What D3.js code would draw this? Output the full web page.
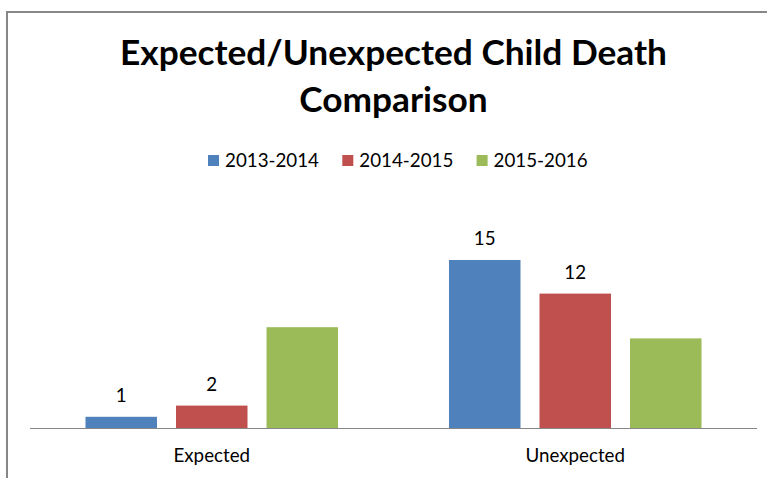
<!DOCTYPE html>
<html>
<head>
<meta charset="utf-8">
<script src="https://cdn.jsdelivr.net/npm/d3@7/dist/d3.min.js"></script>
<style>
  html, body { margin: 0; padding: 0; background: #fff; }
  svg { display: block; }
</style>
</head>
<body>
<svg id="chart" width="767" height="478"></svg>
<script>
// Categories, series and values
const categories = ["Expected", "Unexpected"];
const seriesNames = ["2013-2014", "2014-2015", "2015-2016"];
const seriesColors = ["#4F81BD", "#C0504D", "#9BBB59"];
const values2013 = [1, 15];
const values2014 = [2, 12];
const values2015 = [9, 8];
// data labels are shown only for the first two series
const showLabels = [true, true, false];
const titleLines = ["Expected/Unexpected Child Death", "Comparison"];
const yMax = 16;

const seriesValues = [values2013, values2014, values2015];

const svg = d3.select("#chart");
const FONT = "Lato, 'Open Sans', 'DejaVu Sans', sans-serif";

// Pick a font size so that a string renders at a given width
function fitSize(text, weight, targetWidth) {
  const probe = svg.append("text")
    .attr("font-family", FONT)
    .attr("font-weight", weight)
    .attr("font-size", 100)
    .text(text);
  const w = probe.node().getComputedTextLength();
  probe.remove();
  return 100 * targetWidth / w;
}

// Chart area frame (gray border along the top and left)
svg.append("line")
  .attr("x1", 7).attr("x2", 767).attr("y1", 12).attr("y2", 12)
  .attr("stroke", "#878787").attr("stroke-width", 2);
svg.append("line")
  .attr("x1", 7).attr("x2", 7).attr("y1", 11).attr("y2", 478)
  .attr("stroke", "#878787").attr("stroke-width", 2);

// Plot geometry
const plot = { left: 30, right: 757, baseline: 428, unit: 11.2 };

const x0 = d3.scaleBand()
  .domain(categories)
  .range([plot.left, plot.right])
  .paddingInner(0)
  .paddingOuter(0);

const x1 = d3.scaleBand()
  .domain(seriesNames)
  .range([0, x0.bandwidth()])
  .paddingInner(0.21)
  .paddingOuter(0.613);

const y = d3.scaleLinear()
  .domain([0, yMax])
  .range([plot.baseline, plot.baseline - yMax * plot.unit]);

// Title
const titleSize = fitSize(titleLines[0], "bold", 547);
const titleCx = 393.5;
svg.append("text")
  .attr("x", titleCx).attr("y", 65)
  .attr("text-anchor", "middle")
  .attr("font-family", FONT).attr("font-weight", "bold")
  .attr("font-size", titleSize)
  .attr("fill", "#000")
  .text(titleLines[0]);
svg.append("text")
  .attr("x", titleCx).attr("y", 111.5)
  .attr("text-anchor", "middle")
  .attr("font-family", FONT).attr("font-weight", "bold")
  .attr("font-size", titleSize)
  .attr("fill", "#000")
  .text(titleLines[1]);

// Body text size (legend, labels, axis)
const bodySize = fitSize("2013-2014", "normal", 94);

// Legend
const legendStart = 208;
const legendStep = 134.3;
const legend = svg.append("g");
seriesNames.forEach((name, i) => {
  const gx = legendStart + i * legendStep;
  legend.append("rect")
    .attr("x", gx).attr("y", 155)
    .attr("width", 11).attr("height", 11)
    .attr("fill", seriesColors[i]);
  legend.append("text")
    .attr("x", gx + 17).attr("y", 167)
    .attr("font-family", FONT)
    .attr("font-size", bodySize)
    .attr("fill", "#000")
    .text(name);
});

// Bars
const groups = svg.append("g").selectAll("g")
  .data(categories)
  .join("g")
  .attr("transform", d => `translate(${x0(d)},0)`);

groups.selectAll("rect")
  .data((c, ci) => seriesNames.map((s, si) => ({ s, si, v: seriesValues[si][ci] })))
  .join("rect")
  .attr("x", d => x1(d.s))
  .attr("width", x1.bandwidth())
  .attr("y", d => y(d.v))
  .attr("height", d => y(0) - y(d.v))
  .attr("fill", d => seriesColors[d.si]);

// Data labels
groups.selectAll("text")
  .data((c, ci) => seriesNames.map((s, si) => ({ s, si, v: seriesValues[si][ci] }))
    .filter(d => showLabels[d.si]))
  .join("text")
  .attr("x", d => x1(d.s) + x1.bandwidth() / 2)
  .attr("y", d => y(d.v) - 15)
  .attr("text-anchor", "middle")
  .attr("font-family", FONT)
  .attr("font-size", bodySize)
  .attr("fill", "#000")
  .text(d => d.v);

// Category axis
const xAxis = svg.append("g")
  .attr("transform", `translate(0,${plot.baseline})`)
  .call(d3.axisBottom(x0).tickSize(0).tickPadding(0));
xAxis.select(".domain")
  .attr("stroke", "#868686")
  .attr("stroke-width", 1)
  .attr("d", `M${plot.left},0.5H${plot.right}`);
xAxis.selectAll(".tick text")
  .attr("dy", null)
  .attr("y", 34)
  .attr("font-family", FONT)
  .attr("font-size", bodySize)
  .attr("fill", "#000");
</script>
</body>
</html>
